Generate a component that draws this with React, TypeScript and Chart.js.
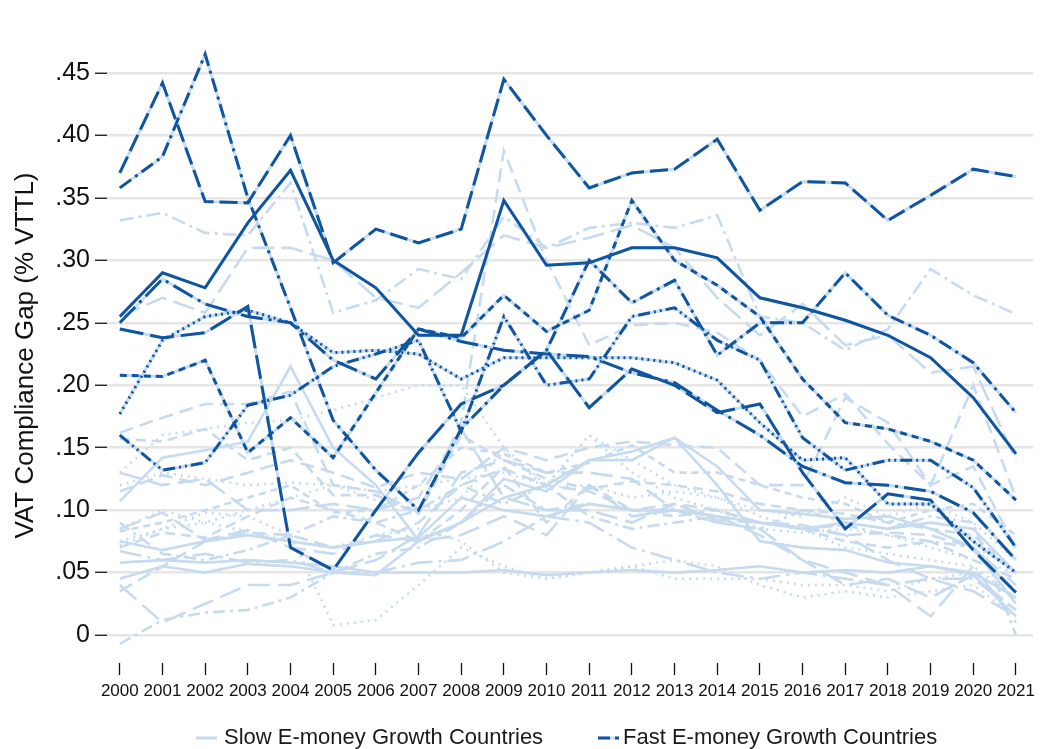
import React, { useEffect, useRef } from 'react';
import { Chart, registerables } from 'chart.js';

Chart.register(...registerables);

const years = [2000, 2001, 2002, 2003, 2004, 2005, 2006, 2007, 2008, 2009, 2010, 2011, 2012, 2013, 2014, 2015, 2016, 2017, 2018, 2019, 2020, 2021];
const yTickValues = [0, 0.05, 0.1, 0.15, 0.2, 0.25, 0.3, 0.35, 0.4, 0.45];
const yAxisTitle = 'VAT Compliance Gap (% VTTL)';
const legendSlow = 'Slow E-money Growth Countries';
const legendFast = 'Fast E-money Growth Countries';

// Fast e-money growth countries (dark lines)
const fast1 = [0.37, 0.442, 0.347, 0.346, 0.40, 0.298, 0.325, 0.314, 0.325, 0.445, 0.40, 0.358, 0.37, 0.373, 0.397, 0.34, 0.363, 0.362, 0.332, 0.352, 0.373, 0.367];
const fast2 = [0.358, 0.383, 0.465, 0.35, 0.262, 0.172, 0.132, 0.10, 0.165, 0.20, 0.228, 0.30, 0.266, 0.284, 0.224, 0.25, 0.25, 0.29, 0.256, 0.24, 0.218, 0.178];
const fast3 = [0.255, 0.29, 0.278, 0.33, 0.372, 0.30, 0.278, 0.24, 0.24, 0.348, 0.296, 0.298, 0.31, 0.31, 0.302, 0.27, 0.262, 0.252, 0.24, 0.222, 0.19, 0.145];
const fast4 = [0.208, 0.207, 0.22, 0.146, 0.174, 0.142, 0.194, 0.245, 0.238, 0.272, 0.243, 0.26, 0.348, 0.30, 0.28, 0.255, 0.205, 0.17, 0.165, 0.155, 0.14, 0.108];
const fast5 = [0.177, 0.236, 0.255, 0.26, 0.25, 0.226, 0.228, 0.225, 0.205, 0.222, 0.222, 0.222, 0.222, 0.218, 0.204, 0.17, 0.14, 0.142, 0.105, 0.105, 0.075, 0.05];
const fast6 = [0.245, 0.238, 0.242, 0.263, 0.07, 0.052, 0.10, 0.146, 0.185, 0.20, 0.228, 0.182, 0.213, 0.20, 0.178, 0.185, 0.13, 0.085, 0.113, 0.108, 0.068, 0.034];
const fast7 = [0.16, 0.132, 0.138, 0.184, 0.192, 0.215, 0.225, 0.236, 0.163, 0.255, 0.20, 0.205, 0.255, 0.262, 0.236, 0.22, 0.158, 0.132, 0.14, 0.14, 0.118, 0.07];
const fast8 = [0.25, 0.285, 0.265, 0.255, 0.25, 0.22, 0.205, 0.245, 0.235, 0.228, 0.225, 0.223, 0.21, 0.202, 0.18, 0.16, 0.135, 0.122, 0.12, 0.115, 0.098, 0.06];

// Slow e-money growth countries (light lines)
const slow1 = [0.332, 0.338, 0.322, 0.32, 0.362, 0.258, 0.268, 0.293, 0.285, 0.335, 0.31, 0.326, 0.33, 0.326, 0.336, 0.255, 0.25, 0.228, 0.245, 0.293, 0.272, 0.257];
const slow2 = [0.162, 0.174, 0.185, 0.185, 0.195, 0.12, 0.115, 0.098, 0.17, 0.388, 0.30, 0.232, 0.248, 0.25, 0.242, 0.22, 0.175, 0.193, 0.153, 0.12, 0.2, 0.11];
const slow3 = [0.107, 0.142, 0.148, 0.155, 0.215, 0.15, 0.12, 0.076, 0.09, 0.125, 0.115, 0.14, 0.147, 0.158, 0.12, 0.075, 0.07, 0.068, 0.058, 0.055, 0.048, 0.015];
const slow4 = [0.255, 0.27, 0.258, 0.31, 0.31, 0.30, 0.27, 0.262, 0.29, 0.32, 0.31, 0.318, 0.328, 0.31, 0.27, 0.24, 0.265, 0.232, 0.24, 0.21, 0.215, 0.14];
const slow5 = [0.157, 0.155, 0.165, 0.14, 0.15, 0.112, 0.112, 0.097, 0.16, 0.14, 0.125, 0.117, 0.123, 0.12, 0.115, 0.105, 0.10, 0.097, 0.09, 0.085, 0.08, 0.05];
const slow6 = [0.085, 0.098, 0.076, 0.084, 0.07, 0.065, 0.08, 0.075, 0.08, 0.095, 0.08, 0.12, 0.095, 0.10, 0.095, 0.08, 0.06, 0.04, 0.045, 0.03, 0.048, 0.02];
const slow7 = [0.075, 0.085, 0.09, 0.10, 0.11, 0.12, 0.115, 0.12, 0.125, 0.13, 0.12, 0.16, 0.14, 0.12, 0.11, 0.095, 0.085, 0.07, 0.065, 0.06, 0.055, 0.03];
const slow8 = [0.045, 0.055, 0.05, 0.057, 0.055, 0.05, 0.048, 0.075, 0.09, 0.11, 0.12, 0.14, 0.14, 0.158, 0.135, 0.10, 0.097, 0.093, 0.095, 0.085, 0.07, 0.025];
const slow9 = [0.035, 0.055, 0.075, 0.082, 0.08, 0.07, 0.075, 0.09, 0.12, 0.133, 0.12, 0.115, 0.10, 0.105, 0.10, 0.09, 0.086, 0.08, 0.082, 0.08, 0.07, 0.035];
const slow10 = [0.072, 0.085, 0.098, 0.095, 0.08, 0.008, 0.012, 0.04, 0.07, 0.055, 0.045, 0.05, 0.055, 0.06, 0.055, 0.04, 0.03, 0.035, 0.03, 0.035, 0.04, 0.015];
const slow11 = [-0.007, 0.012, 0.018, 0.02, 0.03, 0.05, 0.065, 0.07, 0.09, 0.12, 0.10, 0.105, 0.10, 0.10, 0.09, 0.085, 0.10, 0.09, 0.085, 0.095, 0.09, 0.0];
const slow12 = [0.13, 0.12, 0.125, 0.10, 0.10, 0.105, 0.10, 0.11, 0.165, 0.11, 0.10, 0.10, 0.09, 0.105, 0.092, 0.09, 0.088, 0.08, 0.06, 0.045, 0.035, 0.015];
const slow13 = [0.07, 0.082, 0.078, 0.095, 0.11, 0.10, 0.09, 0.075, 0.10, 0.135, 0.09, 0.12, 0.10, 0.095, 0.10, 0.09, 0.085, 0.075, 0.07, 0.075, 0.06, 0.045];
const slow14 = [0.075, 0.068, 0.075, 0.08, 0.075, 0.07, 0.075, 0.078, 0.11, 0.10, 0.095, 0.105, 0.10, 0.10, 0.095, 0.09, 0.085, 0.09, 0.085, 0.09, 0.085, 0.05];
const slow15 = [0.12, 0.13, 0.125, 0.12, 0.122, 0.12, 0.108, 0.10, 0.11, 0.148, 0.118, 0.12, 0.11, 0.115, 0.11, 0.10, 0.095, 0.11, 0.095, 0.105, 0.09, 0.06];
const slow16 = [0.067, 0.06, 0.065, 0.058, 0.06, 0.05, 0.05, 0.058, 0.06, 0.075, 0.095, 0.09, 0.07, 0.06, 0.05, 0.045, 0.05, 0.045, 0.04, 0.045, 0.045, 0.02];
const slow17 = [0.115, 0.128, 0.12, 0.13, 0.14, 0.13, 0.118, 0.13, 0.125, 0.15, 0.14, 0.15, 0.155, 0.152, 0.15, 0.12, 0.12, 0.19, 0.17, 0.12, 0.135, 0.07];
const slow18 = [0.085, 0.10, 0.09, 0.083, 0.075, 0.07, 0.08, 0.085, 0.075, 0.05, 0.045, 0.05, 0.055, 0.045, 0.045, 0.045, 0.04, 0.04, 0.035, 0.045, 0.05, 0.03];
const slow19 = [0.058, 0.06, 0.058, 0.06, 0.058, 0.055, 0.05, 0.05, 0.05, 0.052, 0.048, 0.05, 0.052, 0.05, 0.052, 0.055, 0.05, 0.052, 0.05, 0.055, 0.05, 0.03];
const slow20 = [0.09, 0.065, 0.06, 0.068, 0.08, 0.095, 0.09, 0.10, 0.12, 0.105, 0.12, 0.095, 0.085, 0.09, 0.095, 0.09, 0.085, 0.088, 0.08, 0.075, 0.07, 0.04];
const slow21 = [0.04, 0.01, 0.025, 0.04, 0.04, 0.05, 0.06, 0.08, 0.13, 0.14, 0.13, 0.13, 0.125, 0.10, 0.09, 0.085, 0.06, 0.05, 0.04, 0.015, 0.055, 0.01];
const slow22 = [0.083, 0.09, 0.10, 0.11, 0.12, 0.098, 0.10, 0.12, 0.15, 0.145, 0.13, 0.138, 0.152, 0.13, 0.13, 0.12, 0.11, 0.105, 0.09, 0.10, 0.105, 0.08];
const slow23 = [0.13, 0.16, 0.165, 0.17, 0.172, 0.18, 0.19, 0.20, 0.20, 0.15, 0.12, 0.16, 0.13, 0.11, 0.10, 0.085, 0.082, 0.085, 0.08, 0.07, 0.06, 0.05];

const fastSeries = [fast1, fast2, fast3, fast4, fast5, fast6, fast7, fast8];
const slowSeries = [slow1, slow2, slow3, slow4, slow5, slow6, slow7, slow8, slow9, slow10, slow11, slow12, slow13, slow14, slow15, slow16, slow17, slow18, slow19, slow20, slow21, slow22, slow23];

const DARK = '#0f559f';
const LIGHT = '#c6dbef';

const PATTERNS: number[][] = [
  [18, 6],
  [14, 5, 3, 5],
  [],
  [7, 5],
  [2, 4],
  [24, 7],
  [12, 4, 2, 4, 2, 4],
  [22, 6, 3, 6],
];
const SLOW_PATTERNS: number[][] = [
  [14, 5, 3, 5],
  [14, 7],
  [],
  [22, 7],
  [10, 6],
  [22, 8],
  [2, 5],
  [],
  [14, 7],
  [2, 5],
  [12, 5, 3, 5],
  [22, 8],
  [10, 6],
  [],
  [2, 5],
  [22, 6, 3, 6],
  [14, 7],
  [2, 5],
  [],
  [12, 5, 3, 5],
  [22, 8],
  [7, 5],
  [2, 5],
];

const toPoints = (vals: number[]) => vals.map((v, i) => ({ x: years[i], y: v }));

const legendPlugin = {
  id: 'customLegend',
  afterDraw(chart: any) {
    const ctx = chart.ctx;
    const y = 738;
    ctx.save();
    ctx.lineWidth = 3;
    ctx.strokeStyle = LIGHT;
    ctx.setLineDash([]);
    ctx.beginPath();
    ctx.moveTo(196, y);
    ctx.lineTo(217, y);
    ctx.stroke();
    ctx.strokeStyle = LIGHT;
    ctx.beginPath();
    ctx.moveTo(598, y);
    ctx.lineTo(619, y);
    ctx.stroke();
    ctx.strokeStyle = DARK;
    ctx.setLineDash([12, 5]);
    ctx.beginPath();
    ctx.moveTo(598, y);
    ctx.lineTo(619, y);
    ctx.stroke();
    ctx.setLineDash([]);
    ctx.fillStyle = '#1a1a1a';
    ctx.font = '22px "Liberation Sans Narrow", "Liberation Sans", Arial, sans-serif';
    ctx.textBaseline = 'middle';
    ctx.textAlign = 'left';
    ctx.fillText(legendSlow, 224, y);
    ctx.fillText(legendFast, 623, y);
    ctx.restore();
  },
};

export default function App() {
  const canvasRef = useRef<HTMLCanvasElement | null>(null);

  useEffect(() => {
    const canvas = canvasRef.current;
    if (!canvas) return;

    const datasets: any[] = [];
    fastSeries.forEach((s, i) => {
      datasets.push({
        label: 'Fast ' + (i + 1),
        data: toPoints(s),
        borderColor: DARK,
        borderWidth: 3,
        borderDash: PATTERNS[i % PATTERNS.length],
        pointRadius: 0,
        tension: 0,
        fill: false,
        order: 0,
      });
    });
    fastSeries.forEach((s, i) => {
      datasets.push({
        label: 'Fast base ' + (i + 1),
        data: toPoints(s),
        borderColor: LIGHT,
        borderWidth: 3,
        pointRadius: 0,
        tension: 0,
        fill: false,
        order: 1,
      });
    });
    slowSeries.forEach((s, i) => {
      datasets.push({
        label: 'Slow ' + (i + 1),
        data: toPoints(s),
        borderColor: LIGHT,
        borderWidth: 2.6,
        borderDash: SLOW_PATTERNS[i % SLOW_PATTERNS.length],
        pointRadius: 0,
        tension: 0,
        fill: false,
        order: 2,
      });
    });

    const chart = new Chart(canvas, {
      type: 'line',
      data: { datasets },
      options: {
        animation: false,
        responsive: false,
        maintainAspectRatio: false,
        events: [],
        layout: { padding: { top: 48, right: 23, bottom: 42, left: 0 } },
        plugins: {
          legend: { display: false },
          tooltip: { enabled: false },
        },
        scales: {
          x: {
            type: 'linear',
            min: 1999.7,
            max: 2021.4,
            afterBuildTicks: (scale: any) => {
              scale.ticks = years.map((v) => ({ value: v }));
            },
            afterFit: (scale: any) => {
              scale.height = 44;
            },
            ticks: {
              autoSkip: false,
              maxRotation: 0,
              padding: 6,
              color: '#111',
              font: { family: '"Liberation Sans Narrow", "Liberation Sans", Arial, sans-serif', size: 17 },
              callback: (v: any) => String(v),
            },
            grid: {
              drawOnChartArea: false,
              drawTicks: true,
              tickLength: 12,
              tickColor: '#111',
              tickWidth: 1.3,
            },
            border: { display: false },
          },
          y: {
            type: 'linear',
            min: -0.0224,
            max: 0.47,
            afterBuildTicks: (scale: any) => {
              scale.ticks = yTickValues.map((v) => ({ value: v }));
            },
            afterFit: (scale: any) => {
              scale.width = 107;
            },
            ticks: {
              padding: 5,
              color: '#111',
              font: { family: '"Liberation Sans", Arial, sans-serif', size: 25 },
              callback: (v: any) => {
                const n = Number(v);
                if (Math.abs(n) < 1e-9) return '0';
                return '.' + String(Math.round(n * 100)).padStart(2, '0');
              },
            },
            grid: {
              color: '#e6e6e6',
              lineWidth: 2.5,
              tickColor: '#111',
              tickLength: 12,
              tickWidth: 1.3,
            },
            border: { display: false },
            title: {
              display: true,
              text: yAxisTitle,
              color: '#111',
              font: { family: '"Liberation Sans", Arial, sans-serif', size: 26 },
              padding: { top: 10, bottom: 0 },
            },
          },
        },
      },
      plugins: [legendPlugin],
    });

    return () => {
      chart.destroy();
    };
  }, []);

  return (
    <div style={{ position: 'fixed', left: 0, top: 0, width: 1056, height: 749, background: '#fff' }}>
      <canvas ref={canvasRef} width={1056} height={749} style={{ width: 1056, height: 749, display: 'block' }} />
    </div>
  );
}
